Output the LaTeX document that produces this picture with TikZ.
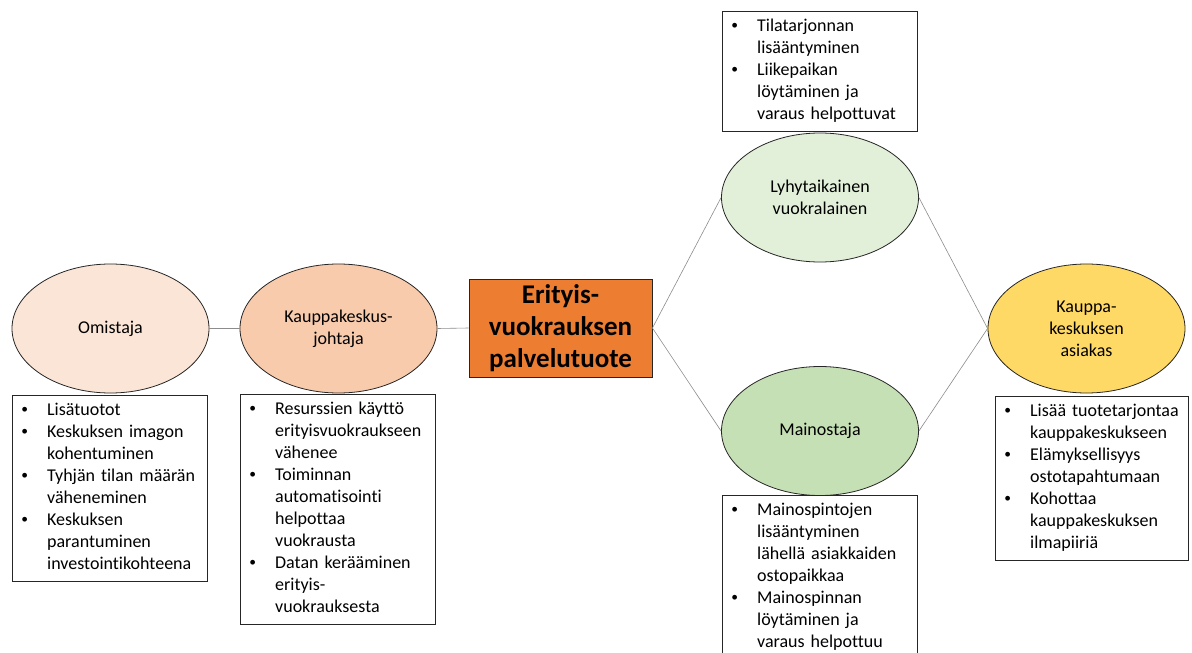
\documentclass[tikz,border=0pt]{standalone}
\usepackage{fontspec}
\usepackage{graphicx}
\setmainfont{Carlito}[Ligatures={NoCommon}]
\usetikzlibrary{shapes.geometric}
\definecolor{ownerfill}{HTML}{FBE5D6}
\definecolor{mgrfill}{HTML}{F8CBAD}
\definecolor{corefill}{HTML}{ED7D31}
\definecolor{tenantfill}{HTML}{E2F0D9}
\definecolor{adfill}{HTML}{C5E0B4}
\definecolor{custfill}{HTML}{FFD966}
\definecolor{linkgray}{HTML}{8C8C8C}
\newcommand{\bl}{\raisebox{0.12em}{\scalebox{0.75}{\textbullet}}}
\newenvironment{blist}{\begin{tabular}{@{}l@{\hspace{19pt}}l@{}}}{\end{tabular}}
\tikzset{
  role/.style={ellipse, draw=black!85, line width=0.8pt, minimum width=197pt,
    minimum height=129pt, inner sep=0pt, align=center,
    font=\fontsize{18}{22}\selectfont},
  infobox/.style={draw=black!85, line width=0.9pt, fill=white, anchor=north west,
    inner xsep=9pt, inner ysep=5pt, font=\fontsize{18}{22}\selectfont},
  link/.style={draw=linkgray, line width=0.6pt}
}
\begin{document}
\begin{tikzpicture}[x=1pt,y=-1pt]
\useasboundingbox[fill=white] (0,0) rectangle (1192,653);

% actors
\node[role, fill=ownerfill] (own) at (110.5,328.5) {Omistaja};
\node[role, fill=mgrfill] (mgr) at (338.5,328.5) {Kauppakeskus-\\johtaja};
\node[role, fill=tenantfill] (ten) at (820,197.5) {Lyhytaikainen\\vuokralainen};
\node[role, fill=adfill] (adv) at (820,431) {Mainostaja};
\node[role, fill=custfill] (cus) at (1086.5,328.5) {Kauppa-\\keskuksen\\asiakas};

% service product
\node[draw=black!85, line width=0.9pt, fill=corefill, minimum width=183pt,
  minimum height=98pt, inner sep=0pt, align=center,
  font=\fontsize{27}{32}\bfseries\selectfont] (core) at (560.5,328) {Erityis-\\vuokrauksen\\palvelutuote};

% connectors
\draw[link] (own.east) -- (mgr.west);
\draw[link] (mgr.east) -- (core.west);
\draw[link] (core.east) -- (ten.west);
\draw[link] (core.east) -- (adv.west);
\draw[link] (ten.east) -- (cus.west);
\draw[link] (adv.east) -- (cus.west);

% benefit lists
\node[infobox, text width=177pt] (ownb) at (12,395) {\begin{blist}
\bl & Lisätuotot\\
\bl & Keskuksen imagon\\
    & kohentuminen\\
\bl & Tyhjän tilan määrän\\
    & väheneminen\\
\bl & Keskuksen\\
    & parantuminen\\
    & investointikohteena
\end{blist}};

\node[infobox, text width=177pt] (mgrb) at (240,394) {\begin{blist}
\bl & Resurssien käyttö\\
    & erityisvuokraukseen\\
    & vähenee\\
\bl & Toiminnan\\
    & automatisointi\\
    & helpottaa\\
    & vuokrausta\\
\bl & Datan kerääminen\\
    & erityis-\\
    & vuokrauksesta
\end{blist}};

\node[infobox, text width=177pt] (tenb) at (722,11) {\begin{blist}
\bl & Tilatarjonnan\\
    & lisääntyminen\\
\bl & Liikepaikan\\
    & löytäminen ja\\
    & varaus helpottuvat
\end{blist}};

\node[infobox, text width=177pt] (advb) at (722,495) {\begin{blist}
\bl & Mainospintojen\\
    & lisääntyminen\\
    & lähellä asiakkaiden\\
    & ostopaikkaa\\
\bl & Mainospinnan\\
    & löytäminen ja\\
    & varaus helpottuu
\end{blist}};

\node[infobox, text width=175pt] (cusb) at (995,396) {\begin{blist}
\bl & Lisää tuotetarjontaa\\
    & kauppakeskukseen\\
\bl & Elämyksellisyys\\
    & ostotapahtumaan\\
\bl & Kohottaa\\
    & kauppakeskuksen\\
    & ilmapiiriä
\end{blist}};
\end{tikzpicture}
\end{document}
